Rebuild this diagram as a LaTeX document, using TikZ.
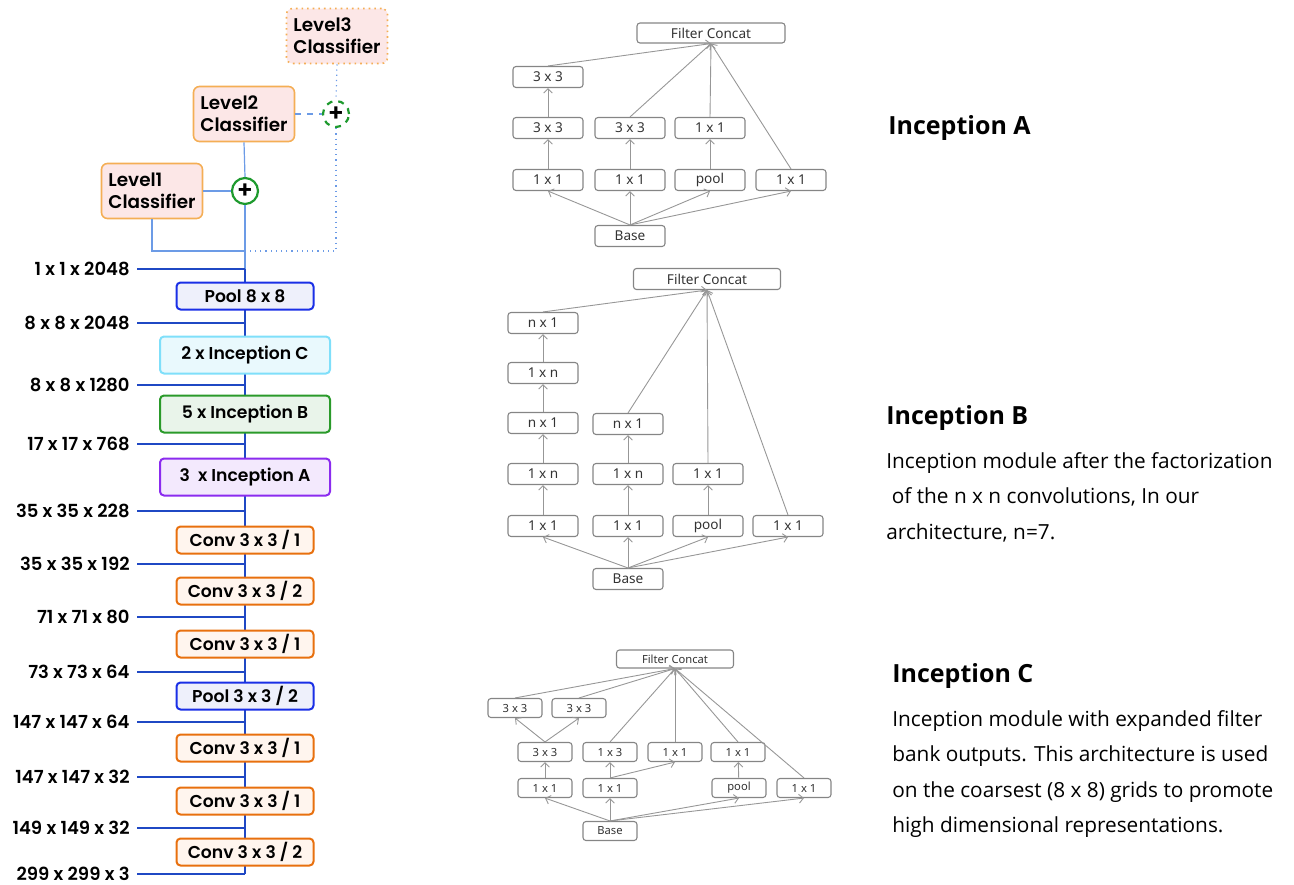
\documentclass[tikz,border=0pt]{standalone}
\usepackage{fontspec}
\usepackage{xcolor}
\usepackage{tikz}
\usetikzlibrary{arrows.meta,positioning,calc}
\newfontfamily\lfont{Poppins}[BoldFont={Poppins SemiBold}]
\newfontfamily\rfont{Open Sans}
\newfontfamily\gfont{Noto Sans}
\definecolor{clsfill}{HTML}{FCE7E7}
\definecolor{clsline}{HTML}{F4AE55}
\definecolor{dblue}{HTML}{1F48C4}
\definecolor{lblue}{HTML}{6C9BE6}
\definecolor{plusgreen}{HTML}{1E9A2E}
\definecolor{poolline}{HTML}{1A2FE6}
\definecolor{poolfill}{HTML}{EEF0FB}
\definecolor{incCline}{HTML}{7FDFFA}
\definecolor{incCfill}{HTML}{E9F9FD}
\definecolor{incBline}{HTML}{2A9A2A}
\definecolor{incBfill}{HTML}{E9F4EA}
\definecolor{incAline}{HTML}{8B2BEF}
\definecolor{incAfill}{HTML}{F3E9FD}
\definecolor{convline}{HTML}{E8700E}
\definecolor{convfill}{HTML}{FFF5EE}
\definecolor{boxgray}{HTML}{858585}

\begin{document}
\begin{tikzpicture}[x=0.5pt, y=-0.5pt, >={Straight Barb[length=2.2pt,width=4.4pt]},
  cls/.style={rectangle, rounded corners=3pt, draw=clsline, fill=clsfill,
              line width=0.8pt, minimum width=50.5pt, minimum height=27.5pt,
              align=left, inner sep=0pt, font=\lfont\bfseries\fontsize{9.2}{11}\selectfont},
  plus/.style={circle, draw=plusgreen, fill=white, line width=1.1pt,
               minimum size=13pt, inner sep=0pt, font=\lfont\bfseries\fontsize{12}{12}\selectfont},
  layer/.style={rectangle, rounded corners=2pt, line width=1pt, minimum width=68.5pt,
                minimum height=13.5pt, inner sep=0pt, font=\lfont\bfseries\fontsize{8.6}{10}\selectfont},
  conv/.style={layer, draw=convline, fill=convfill},
  pool/.style={layer, draw=poolline, fill=poolfill},
  incep/.style={layer, minimum width=85pt, minimum height=18.5pt},
  dim/.style={anchor=east, inner xsep=3.5pt, inner ysep=0pt, font=\lfont\bfseries\fontsize{9}{10}\selectfont},
  dline/.style={draw=dblue, line width=0.8pt},
  lline/.style={draw=lblue, line width=0.6pt},
  ib/.style={rectangle, draw=boxgray, rounded corners=1.5pt, line width=0.55pt,
             minimum width=35pt, minimum height=10.5pt, inner sep=0pt,
             text=black!80, font=\gfont\fontsize{6.8}{8}\selectfont},
  ibs/.style={ib, minimum width=27pt, minimum height=9.5pt, font=\gfont\fontsize{5.6}{7}\selectfont},
  gl/.style={draw=boxgray!85, line width=0.45pt},
  ttl/.style={anchor=west, inner sep=0pt, font=\rfont\bfseries\fontsize{12.5}{14}\selectfont},
  body/.style={anchor=north west, align=left, inner sep=0pt,
               font=\rfont\fontsize{10.4}{17.7}\selectfont}]
  \useasboundingbox (0,0) rectangle (1294,884);

  % classifiers
  \node[cls, dotted] (lev3) at (337,36) {Level3\\Classifier};
  \node[cls] (lev2) at (244,114) {Level2\\Classifier};
  \node[cls] (lev1) at (152,191) {Level1\\Classifier};
  \coordinate (trunk) at (245,0);
  \coordinate (join) at (245,251);
  \coordinate (top) at (245,269);
  \coordinate (bot) at (245,874);

  % trunk
  \draw[dline] (top) -- (bot);
  \node[plus] (plus1) at (245,191) {+};
  \node[plus, dashed] (plus2) at (336,114) {+};
  \draw[lline] (lev2.south) -- (plus1.north);
  \draw[lline] (plus1.south) -- (top);
  \draw[lline] (lev1.east) -- (plus1.west);
  \draw[lline] (lev1.south) |- (join);
  \draw[lline, dashed] (lev2.east) -- (plus2.west);
  \draw[lline, dotted] (lev3.south) -- (plus2.north);
  \draw[lline, dotted] (plus2.south) |- (join);

  % layers
  \node[pool] (pool8) at (245,296) {Pool 8 x 8};
  \node[incep, draw=incCline, fill=incCfill] (incC) at (245,355) {2 x Inception C};
  \node[incep, draw=incBline, fill=incBfill] (incB) at (245,414) {5 x Inception B};
  \node[incep, draw=incAline, fill=incAfill] (incA) at (245,477) {3 \ x Inception A};
  \node[conv] (conv6) at (245,540) {Conv 3 x 3 / 1};
  \node[conv] (conv5) at (245,591) {Conv 3 x 3 / 2};
  \node[conv] (conv4) at (245,644) {Conv 3 x 3 / 1};
  \node[pool] (pool3) at (245,696) {Pool 3 x 3 / 2};
  \node[conv] (conv3) at (245,748) {Conv 3 x 3 / 1};
  \node[conv] (conv2) at (245,801) {Conv 3 x 3 / 1};
  \node[conv] (conv1) at (245,852) {Conv 3 x 3 / 2};

  % tensor sizes
  \foreach \dims/\yy [count=\k] in {1 x 1 x 2048/269, 8 x 8 x 2048/323, 8 x 8 x 1280/385,
      17 x 17 x 768/444, 35 x 35 x 228/511, 35 x 35 x 192/564, 71 x 71 x 80/617,
      73 x 73 x 64/672, 147 x 147 x 64/722, 147 x 147 x 32/777, 149 x 149 x 32/828,
      299 x 299 x 3/874} {
    \node[dim] (d\k) at (137,\yy) {\dims};
    \draw[dline] (d\k.east) -- (d\k.east -| trunk);
  }

  % Inception A
  \node[ib, minimum width=74pt, minimum height=10pt] (aFC) at (711,33) {Filter Concat};
  \node[ib] (a33u) at (548,77) {3 x 3};
  \node[ib] (a33l) at (548,128) {3 x 3};
  \node[ib] (a33m) at (630,128) {3 x 3};
  \node[ib] (a11p) at (710,128) {1 x 1};
  \node[ib] (a11l) at (548,180) {1 x 1};
  \node[ib] (a11m) at (630,180) {1 x 1};
  \node[ib] (apool) at (710,180) {pool};
  \node[ib] (a11r) at (791,180) {1 x 1};
  \node[ib] (abase) at (630,236) {Base};
  \foreach \t in {a11l,a11m,apool,a11r} \draw[gl,->] (abase.north) -- (\t.south);
  \draw[gl,->] (a11l) -- (a33l);
  \draw[gl,->] (a33l) -- (a33u);
  \draw[gl,->] (a11m) -- (a33m);
  \draw[gl,->] (apool) -- (a11p);
  \foreach \t in {a33u,a33m,a11p,a11r} \draw[gl,->] (\t.north) -- (aFC.south);

  % Inception B
  \node[ib, minimum width=73.5pt] (bFC) at (707,279) {Filter Concat};
  \node[ib] (bn1u) at (543,323) {n x 1};
  \node[ib] (b1nu) at (543,373) {1 x n};
  \node[ib] (bn1l) at (543,423) {n x 1};
  \node[ib] (b1nl) at (543,474) {1 x n};
  \node[ib] (b11l) at (543,526) {1 x 1};
  \node[ib] (bn1m) at (628,424) {n x 1};
  \node[ib] (b1nm) at (628,474) {1 x n};
  \node[ib] (b11m) at (628,526) {1 x 1};
  \node[ib] (b11p) at (708,474) {1 x 1};
  \node[ib] (bpool) at (708,526) {pool};
  \node[ib] (b11r) at (788,526) {1 x 1};
  \node[ib] (bbase) at (628,579) {Base};
  \foreach \t in {b11l,b11m,bpool,b11r} \draw[gl,->] (bbase.north) -- (\t.south);
  \draw[gl,->] (b11l) -- (b1nl);
  \draw[gl,->] (b1nl) -- (bn1l);
  \draw[gl,->] (bn1l) -- (b1nu);
  \draw[gl,->] (b1nu) -- (bn1u);
  \draw[gl,->] (b11m) -- (b1nm);
  \draw[gl,->] (b1nm) -- (bn1m);
  \draw[gl,->] (bpool) -- (b11p);
  \foreach \t in {bn1u,bn1m,b11p,b11r} \draw[gl,->] (\t.north) -- (bFC.south);

  % Inception C
  \node[ibs, minimum width=58.5pt, minimum height=9pt] (cFC) at (675,659) {Filter Concat};
  \node[ibs] (c33a) at (515,708) {3 x 3};
  \node[ibs] (c33b) at (579,708) {3 x 3};
  \node[ibs] (c33) at (545,752) {3 x 3};
  \node[ibs] (c13) at (610,752) {1 x 3};
  \node[ibs] (c11p) at (675,752) {1 x 1};
  \node[ibs] (c11q) at (738,752) {1 x 1};
  \node[ibs] (c11l) at (545,788) {1 x 1};
  \node[ibs] (c11m) at (610,788) {1 x 1};
  \node[ibs] (cpool) at (739,788) {pool};
  \node[ibs] (c11r) at (804,788) {1 x 1};
  \node[ibs] (cbase) at (610,831) {Base};
  \foreach \t in {c11l,c11m,cpool,c11r} \draw[gl,->] (cbase.north) -- (\t.south);
  \draw[gl,->] (c11l) -- (c33);
  \draw[gl,->] (c33.north) -- (c33a.south);
  \draw[gl,->] (c33.north) -- (c33b.south);
  \draw[gl,->] (c11m) -- (c13);
  \draw[gl,->] (c11m.north) -- (c11p.south);
  \draw[gl,->] (cpool) -- (c11q);
  \foreach \t in {c33a,c33b,c13,c11p,c11q,c11r} \draw[gl,->] (\t.north) -- (cFC.south);

  % descriptions
  \node[ttl] (tA) at (888,128) {Inception A};
  \node[ttl] (tB) at (886,418) {Inception B};
  \node[body] (xB) at (886,452) {Inception module after the factorization\\
    \ of the n x n convolutions, In our\\ architecture, n=7.};
  \node[ttl] (tC) at (892,676) {Inception C};
  \node[body] (xC) at (892,710) {Inception module with expanded filter\\
    bank outputs. This architecture is used\\ on the coarsest (8 x 8) grids to promote\\
    high dimensional representations.};
\end{tikzpicture}
\end{document}
